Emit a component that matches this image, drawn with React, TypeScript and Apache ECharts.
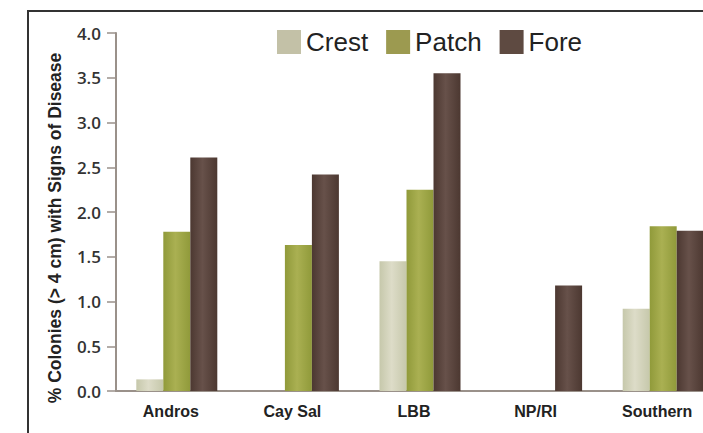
import React, { useEffect, useRef } from "react";
import * as echarts from "echarts";

const categories = ["Andros", "Cay Sal", "LBB", "NP/RI", "Southern"];
const crest = [0.13, 0, 1.45, 0, 0.92];
const patch = [1.78, 1.63, 2.25, 0, 1.84];
const fore = [2.61, 2.42, 3.55, 1.18, 1.79];
const yTicks = [0, 4, 0.5];

const grad = (edge: string, mid: string) =>
  new echarts.graphic.LinearGradient(0, 0, 1, 0, [
    { offset: 0, color: edge },
    { offset: 0.45, color: mid },
    { offset: 1, color: edge },
  ]);

export default function App() {
  const ref = useRef<HTMLDivElement>(null);
  useEffect(() => {
    if (!ref.current) return;
    const chart = echarts.init(ref.current, null, { renderer: "svg" });
    const mk = (name: string, data: number[], legendColor: string, edge: string, mid: string) => ({
      name,
      type: "bar",
      data,
      barWidth: 27,
      barGap: "0%",
      color: legendColor,
      itemStyle: { color: grad(edge, mid) },
    });
    chart.setOption({
      animation: false,
      backgroundColor: "#ffffff",
      legend: {
        left: 277,
        top: 29,
        padding: 0,
        itemWidth: 24,
        itemHeight: 24,
        itemGap: 18,
        icon: "rect",
        textStyle: { fontFamily: "Liberation Sans", fontSize: 26, color: "#222" },
        data: [
          { name: "Crest", itemStyle: { color: "#c3c1a7" } },
          { name: "Patch", itemStyle: { color: "#9c9a50" } },
          { name: "Fore", itemStyle: { color: "#5e4a41" } },
        ],
      },
      grid: { left: 116, width: 608, top: 33, height: 358, containLabel: false, outerBoundsMode: "none" },
      xAxis: {
        type: "category",
        data: categories,
        axisLine: { lineStyle: { color: "#9a918a", width: 2 } },
        axisTick: { show: false },
        axisLabel: {
          fontFamily: "Liberation Sans",
          fontWeight: "bold",
          fontSize: 16,
          color: "#222",
          margin: 12,
          padding: [0, 12, 0, 0],
        },
      },
      yAxis: {
        type: "value",
        min: yTicks[0],
        max: yTicks[1],
        interval: yTicks[2],
        name: "% Colonies (> 4 cm) with Signs of Disease",
        nameLocation: "middle",
        nameGap: 52,
        nameTextStyle: {
          fontFamily: "Liberation Sans",
          fontWeight: "bold",
          fontSize: 17.5,
          color: "#222",
          padding: [0, 32, 0, 0],
        },
        axisLine: { show: true, lineStyle: { color: "#9a918a", width: 2 } },
        axisTick: { show: true, length: 9, lineStyle: { color: "#9a918a", width: 1.5 } },
        splitLine: { show: false },
        axisLabel: {
          fontFamily: "Open Sans",
          fontWeight: 600,
          fontSize: 17,
          color: "#333",
          margin: 15,
          formatter: (v: number) => v.toFixed(1),
        },
      },
      graphic: [
        { type: "line", shape: { x1: 28, y1: 11, x2: 28, y2: 440 }, style: { stroke: "#333", lineWidth: 2 } },
        { type: "line", shape: { x1: 27, y1: 11, x2: 710, y2: 11 }, style: { stroke: "#333", lineWidth: 2 } },
      ],
      series: [
        mk("Crest", crest, "#c3c1a7", "#c6c8ab", "#dddcc8"),
        mk("Patch", patch, "#9c9a50", "#909a3a", "#aab052"),
        mk("Fore", fore, "#5e4a41", "#4c3831", "#67514a"),
      ],
    });
    return () => chart.dispose();
  }, []);
  return <div ref={ref} style={{ width: 703, height: 433, position: "absolute", left: 0, top: 0 }} />;
}
